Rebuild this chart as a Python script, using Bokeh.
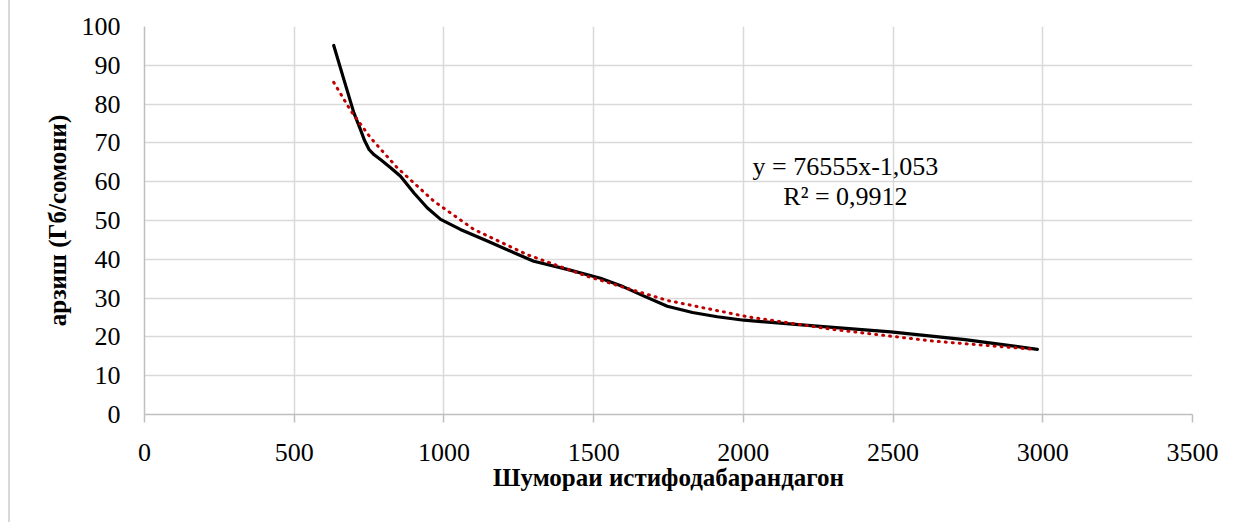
from bokeh.plotting import figure
from bokeh.models import Range1d, FixedTicker
from bokeh.core.properties import value
from bokeh.embed import file_html
from bokeh.resources import INLINE

# Data
users = [632, 666, 699, 721, 735, 750, 766, 788, 822, 855, 900, 944, 989, 1055, 1145, 1234,
         1300, 1412, 1523, 1600, 1657, 1746, 1830, 1913, 2002, 2246, 2492, 2740, 2982]
price = [95.1, 86.3, 77.8, 73.5, 70.6, 68.3, 67.0, 65.7, 63.6, 61.4, 57.1, 53.3, 50.3, 47.7, 44.7, 41.7,
         39.5, 37.4, 35.1, 32.9, 30.9, 27.9, 26.3, 25.2, 24.3, 22.8, 21.3, 19.3, 16.8]

trend_x = [632, 688, 755, 844, 966, 1100, 1278, 1479, 1746, 2013, 2302, 2636, 2970]
trend_y = [85.6, 78.4, 71.3, 63.6, 55.0, 47.7, 41.2, 35.6, 29.4, 25.2, 21.9, 18.9, 16.8]

x_ticks = [0, 500, 1000, 1500, 2000, 2500, 3000, 3500]
y_ticks = [0, 10, 20, 30, 40, 50, 60, 70, 80, 90, 100]

eq_lines = ["y = 76555x-1,053", "R\u00b2 = 0,9912"]
eq_x = [2341, 2341]
eq_y = [64.0, 56.3]

FONT = "Liberation Serif"
GRID = "#d9d9d9"

p = figure(output_backend="svg", toolbar_location=None,
           frame_width=1048, frame_height=388,
           min_border_left=134, min_border_right=35,
           min_border_top=26, min_border_bottom=108,
           x_range=Range1d(0, 3500), y_range=Range1d(0, 100),
           background_fill_color="white", border_fill_color="white")
p.outline_line_color = None
p.styles = {"margin-left": "8px", "border-left": "2px solid #d9d9d9"}

p.xaxis.ticker = FixedTicker(ticks=x_ticks)
p.yaxis.ticker = FixedTicker(ticks=y_ticks)
p.xgrid.grid_line_color = GRID
p.ygrid.grid_line_color = GRID
p.xgrid.grid_line_width = 1.5
p.ygrid.grid_line_width = 1.5

for ax in (p.xaxis, p.yaxis):
    ax.axis_line_color = "#bfbfbf"
    ax.axis_line_width = 1.5
    ax.major_label_text_font = FONT
    ax.major_label_text_font_size = "26px"
    ax.major_label_text_color = "black"
    ax.axis_label_text_font = FONT
    ax.axis_label_text_font_size = "25px"
    ax.axis_label_text_font_style = "bold"
    ax.axis_label_text_color = "black"
    ax.minor_tick_line_color = None

p.xaxis.major_tick_out = 8
p.xaxis.major_tick_in = 0
p.xaxis.major_tick_line_color = "#bfbfbf"
p.xaxis.major_tick_line_width = 1.5
p.xaxis.major_label_standoff = 21
p.xaxis.axis_label = "Шумораи истифодабарандагон"
p.xaxis.axis_label_standoff = 0

p.yaxis.major_tick_out = 0
p.yaxis.major_tick_in = 0
p.yaxis.major_tick_line_color = None
p.yaxis.major_label_standoff = 24
p.yaxis.axis_label = "арзиш (Гб/сомони)"
p.yaxis.axis_label_standoff = 8

p.line(users, price, line_color="black", line_width=3.2, line_join="round", line_cap="round")
p.line(trend_x, trend_y, line_color="#c00000", line_width=3, line_dash="1 6",
       line_cap="round")

p.text(eq_x, eq_y, text=eq_lines, text_font=value(FONT), text_font_size="26px",
       text_align="center", text_baseline="alphabetic", text_color="black")

open("out.html", "w").write(file_html(p, INLINE))
